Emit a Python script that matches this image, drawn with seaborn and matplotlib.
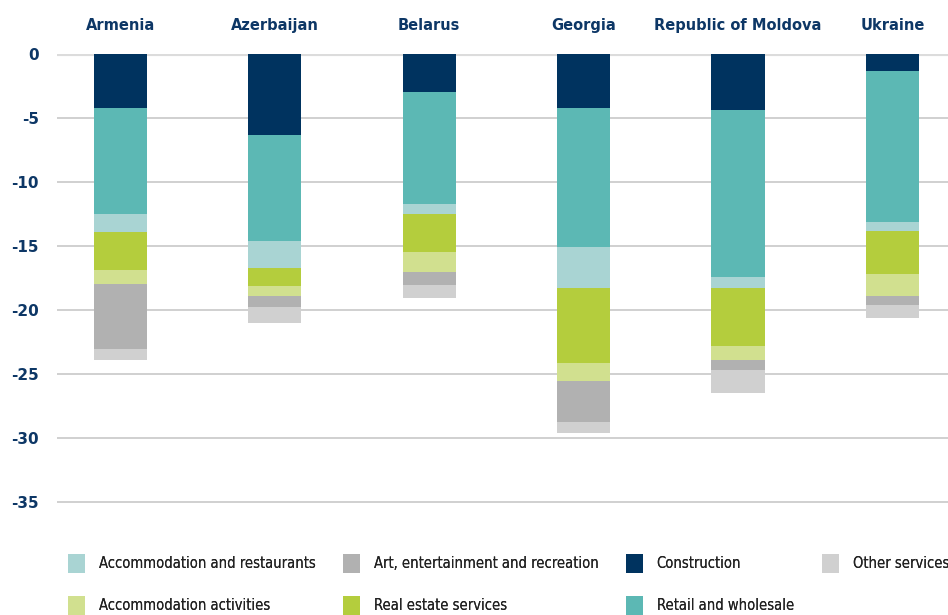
import matplotlib
matplotlib.use("Agg")
import matplotlib.pyplot as plt
from matplotlib.patches import Patch
from matplotlib import font_manager as fm
import seaborn as sns
import pandas as pd
import numpy as np

countries = ["Armenia", "Azerbaijan", "Belarus", "Georgia", "Republic of Moldova", "Ukraine"]
construction = [-4.2, -6.3, -2.95, -4.2, -4.4, -1.3]
retail = [-8.3, -8.3, -8.75, -10.85, -13.05, -11.8]
accom_rest = [-1.45, -2.1, -0.8, -3.25, -0.85, -0.7]
real_estate = [-2.9, -1.4, -2.95, -5.85, -4.5, -3.4]
accom_act = [-1.1, -0.85, -1.6, -1.4, -1.1, -1.7]
art = [-5.1, -0.85, -1.0, -3.2, -0.8, -0.7]
other = [-0.9, -1.25, -1.0, -0.85, -1.8, -1.0]

series = [
    ("Construction", construction, "#00335f"),
    ("Retail and wholesale", retail, "#5cb8b4"),
    ("Accommodation and restaurants", accom_rest, "#a9d4d3"),
    ("Real estate services", real_estate, "#b4cd3d"),
    ("Accommodation activities", accom_act, "#d1e08f"),
    ("Art, entertainment and recreation", art, "#b1b1b1"),
    ("Other services", other, "#d0d0d0"),
]

plt.rcParams["axes.unicode_minus"] = False
sns.set_style("white")

navy = "#0d3766"
fig = plt.figure(figsize=(9.48, 6.15), dpi=100)
W, H = 948, 615
ax = fig.add_axes([57 / W, 1 - 530 / H, (948 - 57) / W, (530 - 54) / H])

cum = np.zeros(len(countries))
cums = []
for name, vals, col in series:
    cum = cum + np.array(vals)
    cums.append((name, cum.copy(), col))

for name, c, col in reversed(cums):
    d = pd.DataFrame({"country": countries, "value": c})
    sns.barplot(data=d, x="country", y="value", color=col, width=0.345,
                saturation=1, ax=ax, zorder=3, errorbar=None, linewidth=0)

ax.set_ylim(-37.2, 0)
ax.set_xlim(-0.41, 5.36)
ax.set_yticks([0, -5, -10, -15, -20, -25, -30, -35])
ax.set_yticklabels(["0", "-5", "-10", "-15", "-20", "-25", "-30", "-35"])
for y in [-5, -10, -15, -20, -25, -30, -35]:
    ax.axhline(y, color="#c8c8c8", lw=1.2, zorder=1)
ax.axhline(0, color="#dcdcdc", lw=3, zorder=2)
for s in ax.spines.values():
    s.set_visible(False)
ax.set_xlabel("")
ax.set_ylabel("")
ax.tick_params(axis="y", length=0, pad=13, labelsize=11, labelcolor=navy)
for t in ax.get_yticklabels():
    t.set_fontweight("bold")
ax.xaxis.tick_top()
ax.tick_params(axis="x", length=0, pad=15, labelsize=10.5, labelcolor=navy)
for t in ax.get_xticklabels():
    t.set_fontweight("bold")

colmap = {n: c for n, _, c in series}
columns = [
    (68, ["Accommodation and restaurants", "Accommodation activities"]),
    (343, ["Art, entertainment and recreation", "Real estate services"]),
    (626, ["Construction", "Retail and wholesale"]),
    (822, ["Other services"]),
]
fp = fm.FontProperties(family="DejaVu Sans", stretch="condensed", size=10.5)
for x0, labels in columns:
    handles = [Patch(facecolor=colmap[n], edgecolor="none", label=n) for n in labels]
    leg = fig.legend(handles=handles, ncol=1, loc="upper left",
                     bbox_to_anchor=(x0 / W, 1 - 554 / H), frameon=False,
                     prop=fp, borderaxespad=0, borderpad=0,
                     handlelength=1.15, handleheight=1.6, handletextpad=0.95,
                     labelspacing=1.6, labelcolor="#222222")
    fig.add_artist(leg)

fig.savefig("out.png", dpi=100)
